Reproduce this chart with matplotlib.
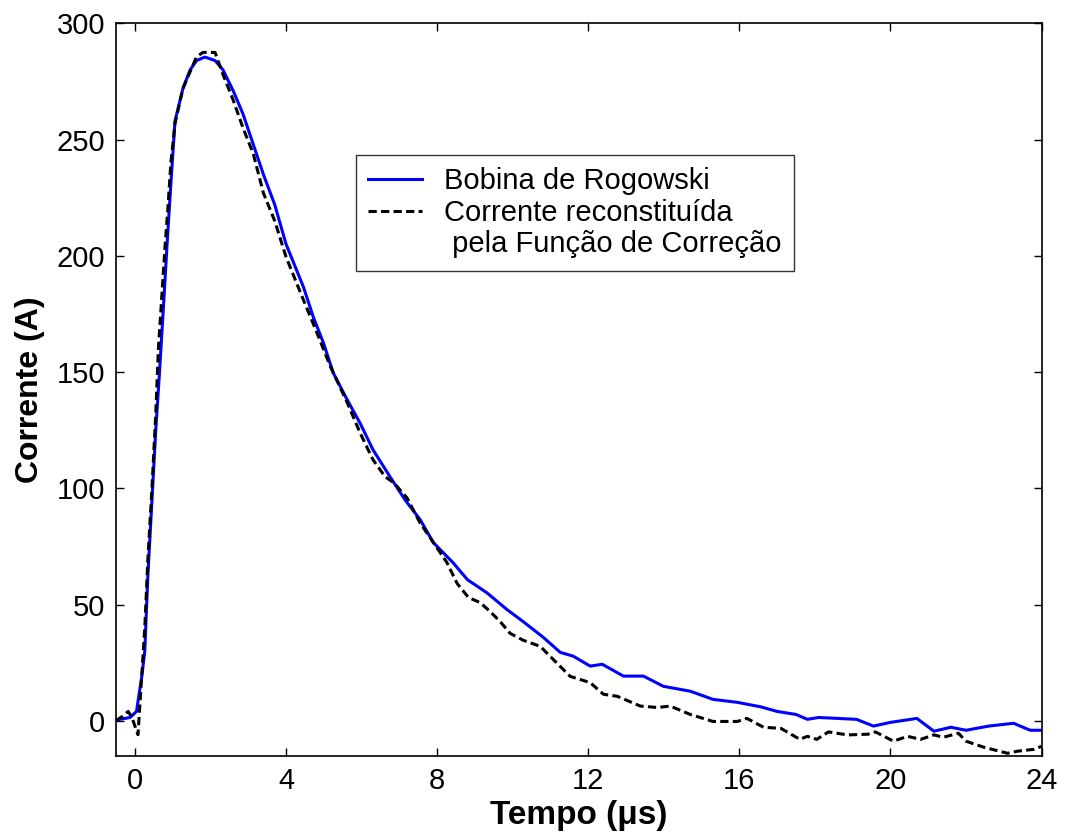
import numpy as np
import matplotlib
matplotlib.use("Agg")
import matplotlib.pyplot as plt
from matplotlib.lines import Line2D

plt.rcParams['font.family'] = ['Liberation Sans', 'DejaVu Sans']

# Bobina de Rogowski (blue, solid)
t_rog = [-0.5, -0.4, -0.13, 0.04, 0.18, 0.26, 0.34, 0.45, 0.55, 0.65, 0.75,
         0.85, 0.95, 1.06, 1.27, 1.46, 1.63, 1.85, 2.12, 2.33, 2.6, 2.86,
         3.13, 3.4, 3.7, 4.0, 4.46, 4.72, 4.99, 5.25, 5.62, 5.96, 6.3, 6.75,
         7.15, 7.55, 7.9, 8.42, 8.8, 9.32, 9.85, 10.28, 10.8, 11.26, 11.6,
         12.05, 12.37, 12.93, 13.46, 13.99, 14.7, 15.3, 15.95, 16.56, 17.0,
         17.5, 17.8, 18.1, 19.1, 19.55, 20.0, 20.7, 21.15, 21.6, 22.0, 22.6,
         23.26, 23.7, 24.0]
i_rog = [0, 0.6, 1.4, 4, 19, 30, 62, 95, 125, 150, 177,
         205, 231, 258, 272, 280, 284, 285.5, 284, 280, 271, 261,
         248, 235, 222, 205, 186.6, 173.7, 162.5, 149.6, 138, 128, 116.6, 105,
         95, 86.5, 76.6, 68, 60.7, 55, 47.8, 42.6, 36, 29.4, 27.8,
         23.5, 24.3, 19.2, 19.2, 14.8, 12.7, 9.2, 7.9, 6, 4,
         2.7, 0.6, 1.4, 0.6, -2.3, -0.7, 1, -4.5, -2.8, -4.1, -2.3,
         -1.1, -4.1, -4.1]

# Corrente reconstituida (black, dashed)
t_rec = [-0.5, -0.45, -0.32, -0.18, -0.08, 0.08, 0.15, 0.26, 0.34, 0.45,
         0.55, 0.62, 0.7, 0.8, 0.87, 0.95, 1.06, 1.27, 1.63, 1.8, 2.12,
         2.33, 2.6, 2.86, 3.13, 3.4, 3.7, 4.0, 4.46, 4.82, 5.17, 5.62, 5.96,
         6.3, 6.62, 6.85, 7.2, 7.55, 7.95, 8.26, 8.53, 8.83, 9.14, 9.4, 9.67,
         9.93, 10.28, 10.73, 10.99, 11.52, 12.05, 12.4, 12.77, 13.38, 13.83,
         14.17, 14.7, 15.3, 15.95, 16.2, 16.64, 17.1, 17.6, 17.8, 18.05,
         18.36, 18.86, 19.4, 19.6, 20.08, 20.45, 20.8, 21.15, 21.4, 21.8,
         22.0, 22.47, 23.1, 23.36, 23.8, 24.0]
i_rec = [0, 0.6, 2, 4, 1.4, -6, 12, 40, 69, 100,
         132, 160, 180, 205, 220, 240, 257, 272, 285.6, 287.5, 287.5,
         278, 267, 255, 244, 227, 215, 199.5, 181, 166.8, 152.5, 136.8, 123.8,
         112.3, 105, 102.4, 95.9, 85, 75.5, 68, 59, 53, 50.8, 47, 42.6,
         37.6, 34.6, 32, 27.7, 19.1, 16.4, 11.4, 10.5, 6.3, 5.7,
         6.3, 2.7, -0.3, -0.3, 1, -2.8, -3.3, -8, -6.7, -8,
         -4.8, -6.1, -5.8, -4.8, -8.8, -6.7, -8, -6.1, -7.1, -5.4,
         -8.8, -11.4, -14, -13.1, -12.3, -11]

xticks = [0, 4, 8, 12, 16, 20, 24]
yticks = [0, 50, 100, 150, 200, 250, 300]
labels = ['Bobina de Rogowski', 'Corrente reconstituída', ' pela Função de Correção']

fig = plt.figure(figsize=(10.65, 8.34), dpi=100)
ax = fig.add_axes([0.109, 0.094, 0.869, 0.878])

l1, = ax.plot(t_rog, i_rog, color='#0000ff', lw=2.2)
l2, = ax.plot(t_rec, i_rec, color='black', lw=2.2, dashes=(2.7, 1.4))
blank = Line2D([], [], color='none')

ax.set_xlim(-0.5, 24)
ax.set_ylim(-15, 300)
ax.set_xticks(xticks)
ax.set_yticks(yticks)
ax.tick_params(direction='in', top=True, right=True, length=6, width=1,
               labelsize=21, pad=8)
for s in ax.spines.values():
    s.set_linewidth(1.2)

ax.set_xlabel('Tempo (μs)', fontsize=24, fontweight='bold', labelpad=4)
ax.set_ylabel('Corrente (A)', fontsize=23, fontweight='bold', labelpad=8)

leg = ax.legend([l1, l2, blank], labels, loc='upper left',
                bbox_to_anchor=(0.259, 0.820), borderaxespad=0, fontsize=21,
                fancybox=False, frameon=True, handlelength=1.85,
                handletextpad=0.75, labelspacing=0.12, borderpad=0.42)
leg.get_frame().set_edgecolor('black')
leg.get_frame().set_linewidth(1.0)

fig.savefig('out.png', dpi=100)
